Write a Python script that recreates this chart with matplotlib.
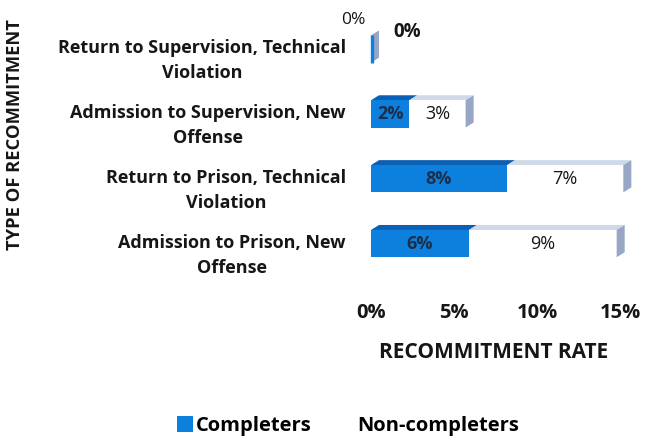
import matplotlib
matplotlib.use("Agg")
import matplotlib.pyplot as plt
from matplotlib.patches import Polygon, Patch

plt.rcParams['font.family'] = ['Open Sans', 'DejaVu Sans']

categories = ["Return to Supervision, Technical Violation",
              "Admission to Supervision, New Offense",
              "Return to Prison, Technical Violation",
              "Admission to Prison, New Offense"]
cat_labels = ["Return to Supervision, Technical\nViolation",
              "Admission to Supervision, New\nOffense",
              "Return to Prison, Technical\nViolation",
              "Admission to Prison, New\nOffense"]
completers = [0.0, 2.3, 8.2, 5.9]
non_completers = [0.0, 3.4, 7.0, 8.9]
series_names = ["Completers", "Non-completers"]
xticks = [0, 5, 10, 15]
xtick_labels = ["0%", "5%", "10%", "15%"]

BLUE = "#0d80dd"
BLUE_TOP = "#0b5fb5"
NC_FRONT = "#ffffff"
NC_TOP = "#cfd9e8"
NC_SIDE = "#97a6c4"
TXT = "#161616"

W, H = 645, 438
fig = plt.figure(figsize=(W / 100, H / 100), dpi=100)
ax_l, ax_r, ax_t, ax_b = 371, 620, 16.6, 289
ax = fig.add_axes([ax_l / W, 1 - ax_b / H, (ax_r - ax_l) / W, (ax_b - ax_t) / H])
ax.set_xlim(0, 15)
ax.set_ylim(3.7, -0.5)

# 3D depth in pixels converted to data units
px_x = (ax_r - ax_l) / 15.0
px_y = (ax_b - ax_t) / 4.2
dx = 8 / px_x
dy = 5 / px_y
bh = 0.42

ypos = list(range(len(categories)))

ax.barh(ypos, completers, height=bh, color=BLUE, zorder=3)
ax.barh(ypos, non_completers, left=completers, height=bh, color=NC_FRONT, zorder=3)

def top_face(left, right, y, color, z):
    top = y - bh / 2
    poly = Polygon([(left, top), (right, top), (right + dx, top - dy), (left + dx, top - dy)],
                   closed=True, facecolor=color, edgecolor='none', zorder=z, clip_on=False)
    ax.add_patch(poly)

def side_face(x, y, color, z):
    top = y - bh / 2
    bot = y + bh / 2
    poly = Polygon([(x, bot), (x, top), (x + dx, top - dy), (x + dx, bot - dy)],
                   closed=True, facecolor=color, edgecolor='none', zorder=z, clip_on=False)
    ax.add_patch(poly)

for y, c, n in zip(ypos, completers, non_completers):
    total = c + n
    if c > 0:
        top_face(0, c, y, BLUE_TOP, 2)
    if n > 0:
        top_face(c, total, y, NC_TOP, 2)
    side_face(total, y, NC_SIDE, 4)
    if n == 0:
        top = y - bh / 2
        bot = y + bh / 2
        xs = total + 1.2 / px_x
        ax.plot([xs, xs], [bot, top], color=BLUE, lw=2.4,
                zorder=5, clip_on=False, solid_capstyle='butt')

# data labels
for y, c, n in zip(ypos, completers, non_completers):
    if c > 0:
        ax.text(c / 2, y, f"{round(c):.0f}%", ha='center', va='center',
                fontsize=13, fontweight='bold', color='#1c2f4a', zorder=6)
    else:
        ax.annotate("0%", (0, y), xytext=(-13, 21), textcoords='offset points',
                    ha='center', va='center', fontsize=12.5, color=TXT,
                    annotation_clip=False)
    if n > 0:
        ax.text(c + n / 2, y, f"{round(n):.0f}%", ha='center', va='center',
                fontsize=13, color=TXT, zorder=6)
    else:
        ax.annotate("0%", (c + n, y), xytext=(26, 12), textcoords='offset points',
                    ha='center', va='center', fontsize=13.5, fontweight='bold',
                    color=TXT, annotation_clip=False)

# category labels sit slightly below the raised 3D bars
label_shift = 6 / px_y
ax.set_yticks([y + label_shift for y in ypos])
ax.set_yticklabels(cat_labels, fontsize=13, fontweight='bold', color=TXT,
                   multialignment='center', linespacing=1.5)
ax.tick_params(axis='y', length=0, pad=18)

ax.set_xticks(xticks)
ax.set_xticklabels(xtick_labels, fontsize=14.5, fontweight='bold', color=TXT)
ax.tick_params(axis='x', length=0, pad=10)

ax.set_xlabel("RECOMMITMENT RATE", fontsize=15, fontweight='bold', color=TXT)
ax.xaxis.set_label_coords((494 - ax_l) / (ax_r - ax_l), -(353 - ax_b) / (ax_b - ax_t))
ax.xaxis.label.set_va('center')

fig.text(15 / W, 1 - 135 / H, "TYPE OF RECOMMITMENT", rotation=90, ha='center', va='center',
         fontsize=13.2, fontweight='bold', color=TXT)

for s in ax.spines.values():
    s.set_visible(False)

handles = [Patch(facecolor=BLUE, edgecolor='none'), Patch(facecolor='white', edgecolor='none')]
fig.legend(handles, series_names, loc='center', bbox_to_anchor=(348 / W, 1 - 426 / H),
           ncol=2, frameon=False, prop={'size': 14.5, 'weight': 'bold'},
           handlelength=0.8, handleheight=0.8, handletextpad=0.15, columnspacing=1.3)

fig.savefig("out.png", dpi=100)
